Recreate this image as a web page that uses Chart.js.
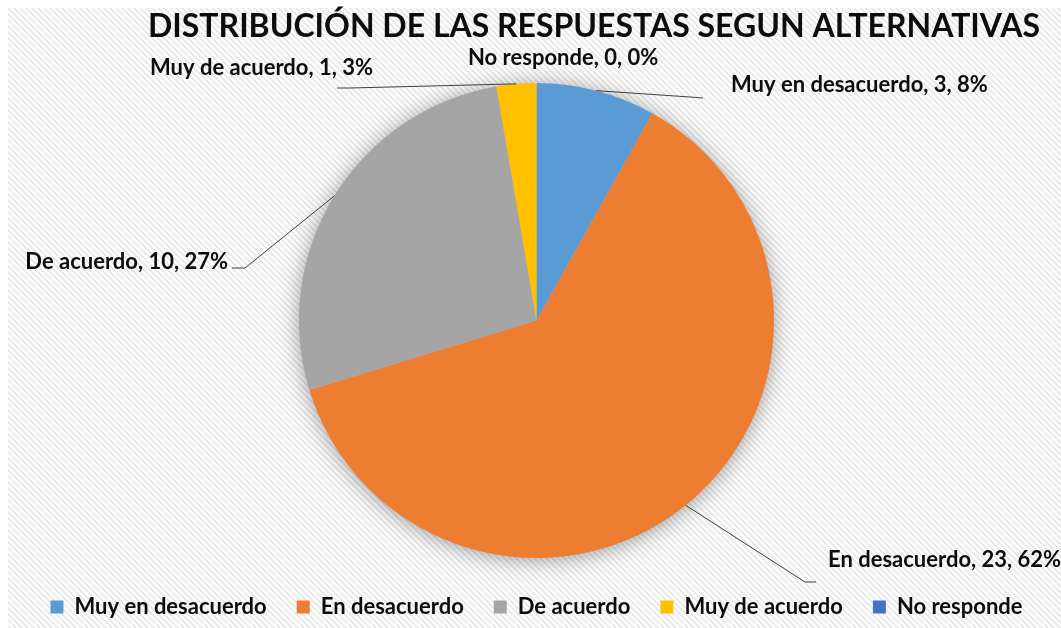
<!DOCTYPE html>
<html>
<head>
<meta charset="utf-8">
<script src="https://cdn.jsdelivr.net/npm/chart.js@4"></script>
<style>
html,body{margin:0;padding:0;background:#fff;}
#wrap{width:1061px;height:628px;position:relative;}
</style>
</head>
<body>
<div id="wrap"><canvas id="c" width="1061" height="628"></canvas></div>
<script>
const titleText = 'DISTRIBUCIÓN DE LAS RESPUESTAS SEGUN ALTERNATIVAS';
const categories = ['Muy en desacuerdo', 'En desacuerdo', 'De acuerdo', 'Muy de acuerdo', 'No responde'];
const counts = [3, 23, 10, 1, 0];
const percents = ['8%', '62%', '27%', '3%', '0%'];
const colors = ['#5B9BD5', '#ED7D31', '#A5A5A5', '#FFC000', '#4472C4'];

const FONT = 'Lato, "Open Sans", sans-serif';

// label layout (offsets from pie centre, px)
const labelLayout = [
  {elbow:[153.5,-223.5], tail:[166.5,-222.5], text:[194.5,-228.5], align:'left'},
  {elbow:[268.5,261.5], tail:[279.5,261.5], text:[291.5,246.5], align:'left'},
  {elbow:[-291.5,-52.5], tail:[-304.5,-52.5], text:[-308.5,-51.5], align:'right'},
  {elbow:[-186.5,-232.5], tail:[-199.5,-232.5], text:[-386.5,-245.5], align:'left'},
  {elbow:null, tail:null, text:[-68.5,-255.5], align:'left'}
];

const bgPlugin = {
  id: 'bg',
  beforeDraw(chart) {
    const ctx = chart.ctx;
    const t = document.createElement('canvas');
    t.width = 6; t.height = 6;
    const tc = t.getContext('2d');
    tc.fillStyle = '#ffffff';
    tc.fillRect(0,0,6,6);
    tc.strokeStyle = '#e9e9e9';
    tc.lineWidth = 2;
    tc.beginPath();
    tc.moveTo(-1,-1); tc.lineTo(7,7);
    tc.moveTo(-4,2); tc.lineTo(4,10);
    tc.moveTo(2,-4); tc.lineTo(10,4);
    tc.stroke();
    ctx.save();
    ctx.fillStyle = '#ffffff';
    ctx.fillRect(0,0,chart.width,chart.height);
    ctx.fillStyle = ctx.createPattern(t,'repeat');
    ctx.fillRect(8,8,chart.width-8,chart.height-8);
    ctx.restore();
  }
};

const titlePlugin = {
  id: 'customTitle',
  afterDraw(chart) {
    const ctx = chart.ctx;
    ctx.save();
    ctx.font = 'bold 32px ' + FONT;
    ctx.fillStyle = '#0d0d0d';
    ctx.textBaseline = 'alphabetic';
    ctx.textAlign = 'left';
    ctx.fillText(titleText, 148, 37, 892);
    ctx.restore();
  }
};

const shadowPlugin = {
  id: 'pieShadow',
  beforeDatasetsDraw(chart) {
    const arc = chart.getDatasetMeta(0).data[0];
    if (!arc) return;
    const {x, y, outerRadius} = arc.getProps(['x','y','outerRadius'], true);
    const ctx = chart.ctx;
    ctx.save();
    ctx.shadowColor = 'rgba(0,0,0,0.4)';
    ctx.shadowBlur = 22;
    ctx.shadowOffsetX = 0;
    ctx.shadowOffsetY = 2;
    ctx.fillStyle = '#bbbbbb';
    ctx.beginPath();
    ctx.arc(x, y, outerRadius - 1, 0, Math.PI*2);
    ctx.fill();
    ctx.restore();
  }
};

const labelPlugin = {
  id: 'pieLabels',
  afterDatasetsDraw(chart) {
    const ctx = chart.ctx;
    const meta = chart.getDatasetMeta(0);
    meta.data.forEach((arc, i) => {
      const {x, y, startAngle, endAngle, outerRadius} = arc.getProps(['x','y','startAngle','endAngle','outerRadius'], true);
      const mid = (startAngle + endAngle) / 2;
      const px = x + outerRadius * Math.cos(mid);
      const py = y + outerRadius * Math.sin(mid);
      const L = labelLayout[i];
      ctx.save();
      if (L.elbow) {
        ctx.strokeStyle = '#404040';
        ctx.lineWidth = 1;
        ctx.beginPath();
        ctx.moveTo(px, py);
        ctx.lineTo(x + L.elbow[0], y + L.elbow[1]);
        ctx.lineTo(x + L.tail[0], y + L.tail[1]);
        ctx.stroke();
      }
      ctx.font = 'bold 22px ' + FONT;
      ctx.fillStyle = '#0d0d0d';
      ctx.textAlign = L.align;
      ctx.textBaseline = 'alphabetic';
      ctx.fillText(categories[i] + ', ' + counts[i] + ', ' + percents[i], x + L.text[0], y + L.text[1]);
      ctx.restore();
    });
  }
};

new Chart(document.getElementById('c'), {
  type: 'pie',
  data: {
    labels: categories,
    datasets: [{
      data: counts,
      backgroundColor: colors,
      borderWidth: 0
    }]
  },
  options: {
    responsive: false,
    animation: false,
    radius: 237.5,
    layout: { padding: { top: 75, left: 12, right: 0, bottom: 0 } },
    plugins: {
      title: { display: false },
      tooltip: { enabled: false },
      legend: {
        position: 'bottom',
        labels: {
          boxWidth: 13,
          boxHeight: 13,
          padding: 30,
          color: '#0d0d0d',
          font: { family: FONT, size: 22, weight: 'bold' }
        }
      }
    }
  },
  plugins: [bgPlugin, shadowPlugin, labelPlugin, titlePlugin]
});
</script>
</body>
</html>
